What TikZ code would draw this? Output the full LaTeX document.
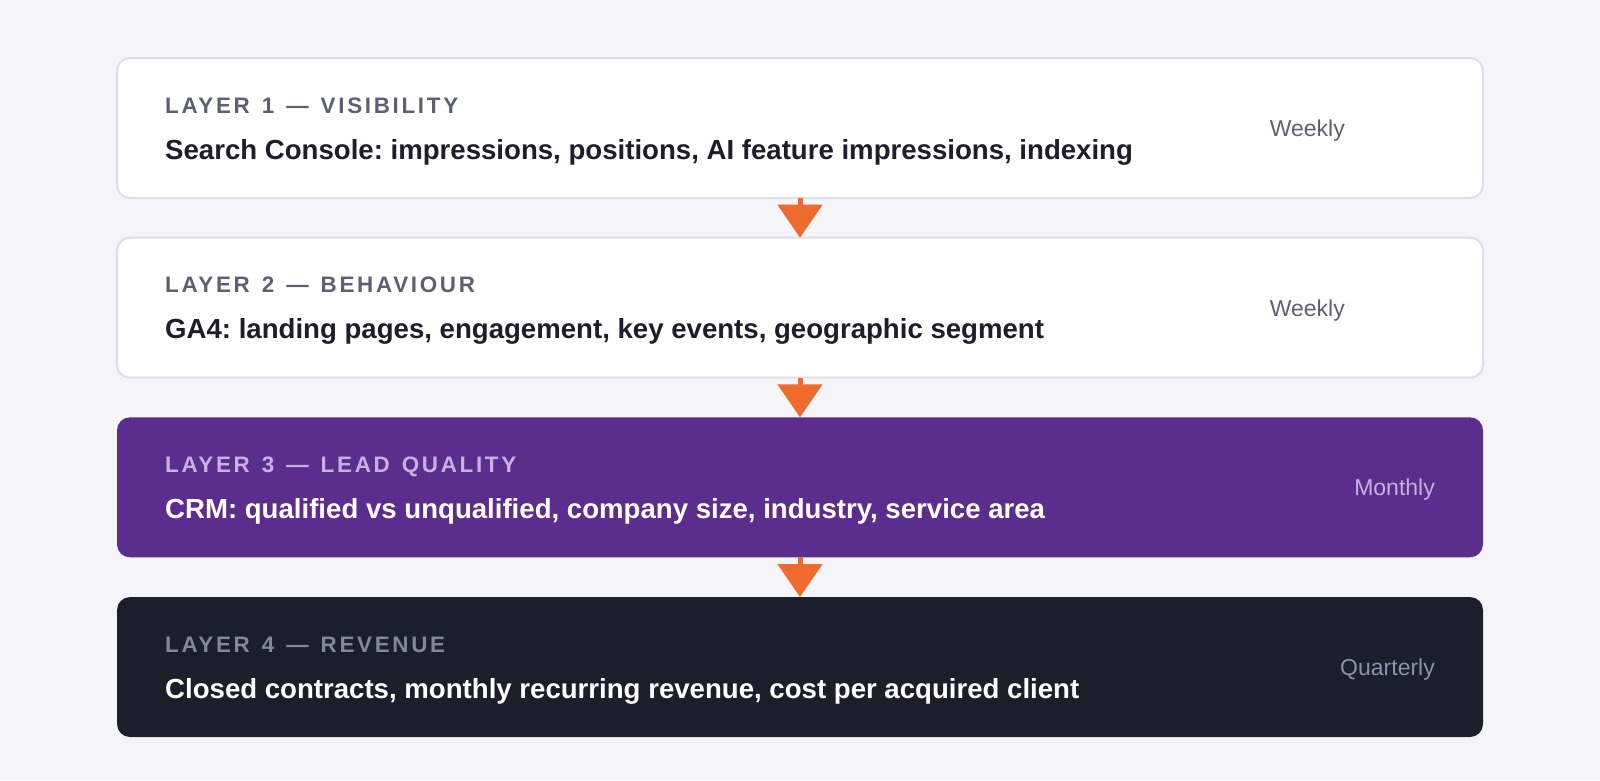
\documentclass[tikz,border=0pt]{standalone}
\usepackage{fontspec}
\setmainfont{Liberation Sans}
\newfontfamily\labfont{Liberation Sans}[LetterSpace=12,WordSpace=1.35]
\usetikzlibrary{arrows.meta}
\frenchspacing
\definecolor{bgc}{HTML}{F4F5F9}
\definecolor{brd}{HTML}{DDE0E8}
\definecolor{org}{HTML}{EE6B2D}
\definecolor{pur}{HTML}{5B2D8C}
\definecolor{drk}{HTML}{1B1E2B}
\definecolor{gry}{HTML}{5B6173}
\definecolor{lav}{HTML}{C6B2E2}
\definecolor{slt}{HTML}{808899}
\definecolor{slt2}{HTML}{8A93A8}
\tikzset{
  box/.style={anchor=north west, minimum width=1366pt, minimum height=140pt,
    rounded corners=13pt, inner sep=0pt, outer sep=0pt},
  whitebox/.style={box, fill=white, draw=brd, line width=2pt},
  purbox/.style={box, fill=pur},
  drkbox/.style={box, fill=drk},
  lab/.style={anchor=base west, inner sep=0pt, font=\labfont\bfseries\fontsize{22.4}{26}\selectfont},
  main/.style={anchor=base west, inner sep=0pt, font=\bfseries\fontsize{27.6}{32}\selectfont\frenchspacing},
  freq/.style={anchor=base east, inner sep=0pt, font=\fontsize{23}{27}\selectfont},
  arr/.style={draw=org, line width=5pt, -{Triangle[width=44pt,length=33pt]}, shorten <=0pt}
}
\begin{document}
\begin{tikzpicture}[x=1pt,y=-1pt]
\fill[bgc] (0,0) rectangle (1600,780);
\useasboundingbox (0,0) rectangle (1600,780);
% boxes
\node[whitebox] (b1) at (117,58) {};
\node[whitebox] (b2) at (117,237.7) {};
\node[purbox] (b3) at (117,417.3) {};
\node[drkbox] (b4) at (117,597) {};
% connectors
\draw[arr] (b1.south) -- (b2.north);
\draw[arr] (b2.south) -- (b3.north);
\draw[arr] (b3.south) -- (b4.north);
% layer 1
\node[lab, text=gry] (l1) at (165,113) {LAYER 1 — VISIBILITY};
\node[main, text=drk] (m1) at (165,159) {Search Console: impressions, positions, AI feature impressions, indexing};
\node[freq, text=gry] (f1) at (1345,136.5) {Weekly};
% layer 2
\node[lab, text=gry] (l2) at (165,292.7) {LAYER 2 — BEHAVIOUR};
\node[main, text=drk] (m2) at (165,338.7) {GA4: landing pages, engagement, key events, geographic segment};
\node[freq, text=gry] (f2) at (1345,316.2) {Weekly};
% layer 3
\node[lab, text=lav] (l3) at (165,472.3) {LAYER 3 — LEAD QUALITY};
\node[main, text=white] (m3) at (165,518.3) {CRM: qualified vs unqualified, company size, industry, service area};
\node[freq, text=lav] (f3) at (1435,495.8) {Monthly};
% layer 4
\node[lab, text=slt] (l4) at (165,652) {LAYER 4 — REVENUE};
\node[main, text=white] (m4) at (165,698) {Closed contracts, monthly recurring revenue, cost per acquired client};
\node[freq, text=slt2] (f4) at (1435,675.5) {Quarterly};
\end{tikzpicture}
\end{document}
